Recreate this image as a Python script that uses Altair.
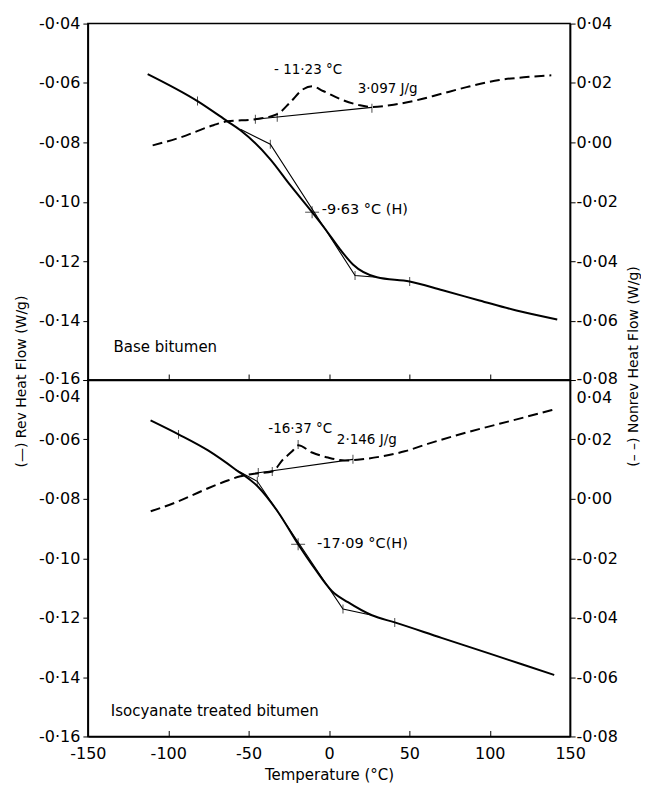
import altair as alt
import pandas as pd

FONT = "DejaVu Sans"

# ---------------- Top panel: Base bitumen ----------------
base_rev_T = [-112.8, -81.8, -63.2, -55.1, -36.5, -24.1, -10.5, -1.2, 6.9, 14.9, 29.8, 50.2, 70.7, 93.6, 116.6, 142.0]
base_rev_L = [-0.0570, -0.0661, -0.0729, -0.0759, -0.0857, -0.0944, -0.1035, -0.1100, -0.1160, -0.1211, -0.1254, -0.1268, -0.1298, -0.1332, -0.1366, -0.1396]
base_tan_T = [-55.1, -36.5, 16.2, 29.8]
base_tan_L = [-0.0756, -0.0806, -0.1248, -0.1254]
base_non_T = [-109.7, -92.3, -71.9, -63.2, -45.8, -32.2, -24.1, -16.1, -10.5, -3.7, 8.7, 19.3, 26.7, 37.8, 54.6, 68.8, 85.6, 106.0, 122.8, 138.3]
base_non_R = [-0.0010, 0.0017, 0.0058, 0.0071, 0.0078, 0.0095, 0.0135, 0.0179, 0.0189, 0.0173, 0.0142, 0.0125, 0.0119, 0.0125, 0.0142, 0.0162, 0.0186, 0.0210, 0.0220, 0.0226]
base_bl_T = [-45.8, 26.7]
base_bl_R = [0.0078, 0.0118]
base_tickL_T = [-81.8, 50.2, -36.5, 16.2]
base_tickL_L = [-0.0661, -0.1268, -0.0806, -0.1248]
base_tickR_T = [-45.8, -32.2, 26.7]
base_tickR_R = [0.0078, 0.0085, 0.0115]
base_cross_T = [-10.5]
base_cross_L = [-0.1035]
base_txt = ["- 11·23 °C", "3·097 J/g"]
base_txt_T = [-13.0, 36.5]
base_txt_L = [-0.0557, -0.0621]
base_txtl = ["-9·63 °C (H)"]
base_txtl_T = [-4.5]
base_txtl_L = [-0.1029]
base_name = ["Base bitumen"]
base_name_T = [-134.0]
base_name_L = [-0.1490]

# ---------------- Bottom panel: Isocyanate treated bitumen ----------------
iso_rev_T = [-111.0, -93.6, -75.0, -58.2, -44.0, -31.6, -19.2, -8.6, 1.9, 11.8, 26.7, 40.9, 70.0, 100.0, 120.0, 140.1]
iso_rev_L = [-0.0536, -0.0583, -0.0638, -0.0701, -0.0760, -0.0845, -0.0953, -0.1037, -0.1111, -0.1148, -0.1192, -0.1216, -0.1268, -0.1321, -0.1357, -0.1393]
iso_tan_T = [-58.2, -44.6, 8.7, 26.7]
iso_tan_L = [-0.0701, -0.0741, -0.1171, -0.1192]
iso_non_T = [-110.9, -95.4, -76.8, -64.4, -55.1, -44.0, -35.3, -28.5, -22.9, -19.2, -10.5, -0.6, 10.0, 20.5, 32.9, 47.1, 61.4, 78.1, 94.9, 113.5, 140.1]
iso_non_R = [-0.0042, -0.0012, 0.0032, 0.0059, 0.0076, 0.0086, 0.0092, 0.0133, 0.0160, 0.0180, 0.0156, 0.0139, 0.0129, 0.0133, 0.0143, 0.0160, 0.0185, 0.0212, 0.0237, 0.0263, 0.0301]
iso_bl_T = [-46.0, 14.9]
iso_bl_R = [0.0086, 0.0133]
iso_tickL_T = [-93.6, 40.9, -44.6, 8.7]
iso_tickL_L = [-0.0583, -0.1216, -0.0741, -0.1171]
iso_tickR_T = [-44.0, -35.3, 14.9, -19.2]
iso_tickR_R = [0.0089, 0.0092, 0.0133, 0.0183]
iso_cross_T = [-19.2]
iso_cross_L = [-0.0953]
iso_txt = ["-16·37 °C", "2·146 J/g"]
iso_txt_T = [-17.9, 23.5]
iso_txt_L = [-0.0566, -0.0603]
iso_txtl = ["-17·09 °C(H)"]
iso_txtl_T = [-7.4]
iso_txtl_L = [-0.0953]
iso_name = ["Isocyanate treated bitumen"]
iso_name_T = [-135.7]
iso_name_L = [-0.1514]

left_ticks = [-0.16, -0.14, -0.12, -0.10, -0.08, -0.06, -0.04]
right_ticks = [-0.08, -0.06, -0.04, -0.02, 0.00, 0.02, 0.04]
x_ticks_inner = [-100, -50, 0, 50, 100]
x_ticks_bottom = [-150, -100, -50, 0, 50, 100, 150]

W, H = 483, 357
LBL = "(datum.value < -0.0001 ? '-' : '') + replace(format(abs(datum.value), '.2f'), '.', '·')"
XLBL = "(datum.value < 0 ? '-' : '') + format(abs(datum.value), 'd')"
xs = alt.Scale(domain=[-150, 150], nice=False, zero=False)
ls = alt.Scale(domain=[-0.16, -0.04], nice=False, zero=False)
rs = alt.Scale(domain=[-0.08, 0.04], nice=False, zero=False)


def df(**cols):
    return pd.DataFrame(cols)


def panel(d, top):
    # inward-pointing ticks along the bottom edge: a top-oriented axis moved down to the bottom edge
    xaxis_ticks = alt.Axis(orient="top", offset=-H, values=x_ticks_inner, labels=False, domain=False,
                           title=None, tickSize=6, grid=False)
    if top:
        xaxis = alt.Axis(orient="bottom", values=x_ticks_inner, labels=False, ticks=False, title=None, grid=False)
        laxis = alt.Axis(values=left_ticks, labelExpr=LBL, grid=False, tickSize=5, labelPadding=3,
                         title="(—) Rev Heat Flow (W/g)", titleAngle=270, titleX=-66, titleY=H + 1,
                         titleAlign="center", titleBaseline="middle",
                         labelOffset={"condition": {"test": "datum.value < -0.155", "value": -2}, "value": 0})
        raxis = alt.Axis(values=right_ticks, labelExpr=LBL, grid=False, orient="right", tickSize=5, labelPadding=1,
                         title="(– –) Nonrev Heat Flow (W/g)", titleAngle=270, titleX=63, titleY=H - 14,
                         titleAlign="center", titleBaseline="middle",
                         labelOffset={"condition": {"test": "datum.value < -0.075", "value": -2}, "value": 0})
    else:
        xaxis = alt.Axis(orient="bottom", values=x_ticks_bottom, labelExpr=XLBL, title="Temperature (°C)",
                         ticks=False, labelPadding=9, titlePadding=6, grid=False, labelFlush=False,
                         titleFontSize=15)
        laxis = alt.Axis(values=left_ticks, labelExpr=LBL, grid=False, tickSize=5, labelPadding=3, title=None,
                         labelBaseline={"condition": {"test": "datum.value > -0.045", "value": "top"}, "value": "middle"},
                         labelOffset={"condition": {"test": "datum.value > -0.045", "value": 9}, "value": 0})
        raxis = alt.Axis(values=right_ticks, labelExpr=LBL, grid=False, orient="right", tickSize=5, labelPadding=1,
                         title=None,
                         labelBaseline={"condition": {"test": "datum.value > 0.035", "value": "top"}, "value": "middle"},
                         labelOffset={"condition": {"test": "datum.value > 0.035", "value": 10}, "value": 0})

    XA = alt.X("T:Q", scale=xs, axis=xaxis)
    XB = alt.X("T:Q", scale=xs, axis=xaxis_ticks)
    YL = alt.Y("L:Q", scale=ls, axis=laxis)
    YR = alt.Y("R:Q", scale=rs, axis=raxis)

    main = alt.Chart(df(T=d["rev_T"], L=d["rev_L"])).mark_line(
        color="black", strokeWidth=2, interpolate="monotone").encode(x=XA, y=YL)
    tan = alt.Chart(df(T=d["tan_T"], L=d["tan_L"])).mark_line(
        color="black", strokeWidth=1.1).encode(x=XA, y=YL)
    tk = alt.Chart(df(T=d["tickL_T"], L=d["tickL_L"])).mark_tick(
        orient="vertical", size=9, thickness=1, color="black").encode(x=XA, y=YL)
    crv = alt.Chart(df(T=d["cross_T"], L=d["cross_L"])).mark_tick(
        orient="vertical", size=12, thickness=1, color="black").encode(x=XA, y=YL)
    crh = alt.Chart(df(T=d["cross_T"], L=d["cross_L"])).mark_tick(
        orient="horizontal", size=14, thickness=1, color="black").encode(x=XA, y=YL)
    tc = alt.Chart(df(T=d["txt_T"], L=d["txt_L"], s=d["txt"])).mark_text(
        font=FONT, fontSize=13.5, color="black", align="center", baseline="middle").encode(x=XA, y=YL, text="s:N")
    tl = alt.Chart(df(T=d["txtl_T"], L=d["txtl_L"], s=d["txtl"])).mark_text(
        font=FONT, fontSize=14.5, color="black", align="left", baseline="middle").encode(x=XA, y=YL, text="s:N")
    nm = alt.Chart(df(T=d["name_T"], L=d["name_L"], s=d["name"])).mark_text(
        font=FONT, fontSize=15, color="black", align="left", baseline="middle").encode(x=XA, y=YL, text="s:N")
    left = alt.layer(main, tan, tk, crv, crh, tc, tl, nm)

    dash = alt.Chart(df(T=d["non_T"], R=d["non_R"])).mark_line(
        color="black", strokeWidth=2, strokeDash=[10, 5], interpolate="monotone").encode(x=XB, y=YR)
    bl = alt.Chart(df(T=d["bl_T"], R=d["bl_R"])).mark_line(
        color="black", strokeWidth=1.1).encode(x=XB, y=YR)
    tkr = alt.Chart(df(T=d["tickR_T"], R=d["tickR_R"])).mark_tick(
        orient="vertical", size=9, thickness=1, color="black").encode(x=XB, y=YR)
    right = alt.layer(dash, bl, tkr)

    return alt.layer(left, right).resolve_scale(y="independent").resolve_axis(
        x="independent").properties(width=W, height=H)


base = dict(rev_T=base_rev_T, rev_L=base_rev_L, tan_T=base_tan_T, tan_L=base_tan_L,
            non_T=base_non_T, non_R=base_non_R, bl_T=base_bl_T, bl_R=base_bl_R,
            tickL_T=base_tickL_T, tickL_L=base_tickL_L, tickR_T=base_tickR_T, tickR_R=base_tickR_R,
            cross_T=base_cross_T, cross_L=base_cross_L, txt=base_txt, txt_T=base_txt_T, txt_L=base_txt_L,
            txtl=base_txtl, txtl_T=base_txtl_T, txtl_L=base_txtl_L,
            name=base_name, name_T=base_name_T, name_L=base_name_L)
iso = dict(rev_T=iso_rev_T, rev_L=iso_rev_L, tan_T=iso_tan_T, tan_L=iso_tan_L,
           non_T=iso_non_T, non_R=iso_non_R, bl_T=iso_bl_T, bl_R=iso_bl_R,
           tickL_T=iso_tickL_T, tickL_L=iso_tickL_L, tickR_T=iso_tickR_T, tickR_R=iso_tickR_R,
           cross_T=iso_cross_T, cross_L=iso_cross_L, txt=iso_txt, txt_T=iso_txt_T, txt_L=iso_txt_L,
           txtl=iso_txtl, txtl_T=iso_txtl_T, txtl_L=iso_txtl_L,
           name=iso_name, name_T=iso_name_T, name_L=iso_name_L)

chart = alt.vconcat(panel(base, True), panel(iso, False), spacing=0, bounds="flush").properties(
    padding={"left": 6, "top": 6, "right": 0, "bottom": 0}
).configure_view(
    stroke="black", strokeWidth=1.5
).configure_axis(
    domainColor="black", domainWidth=1.5, tickColor="black", tickWidth=1,
    labelColor="black", titleColor="black", labelFont=FONT, titleFont=FONT,
    labelFontSize=16, titleFontSize=14, titleFontWeight="normal", grid=False
)

chart.save("out.html", embed_options={"renderer": "svg", "actions": False})
